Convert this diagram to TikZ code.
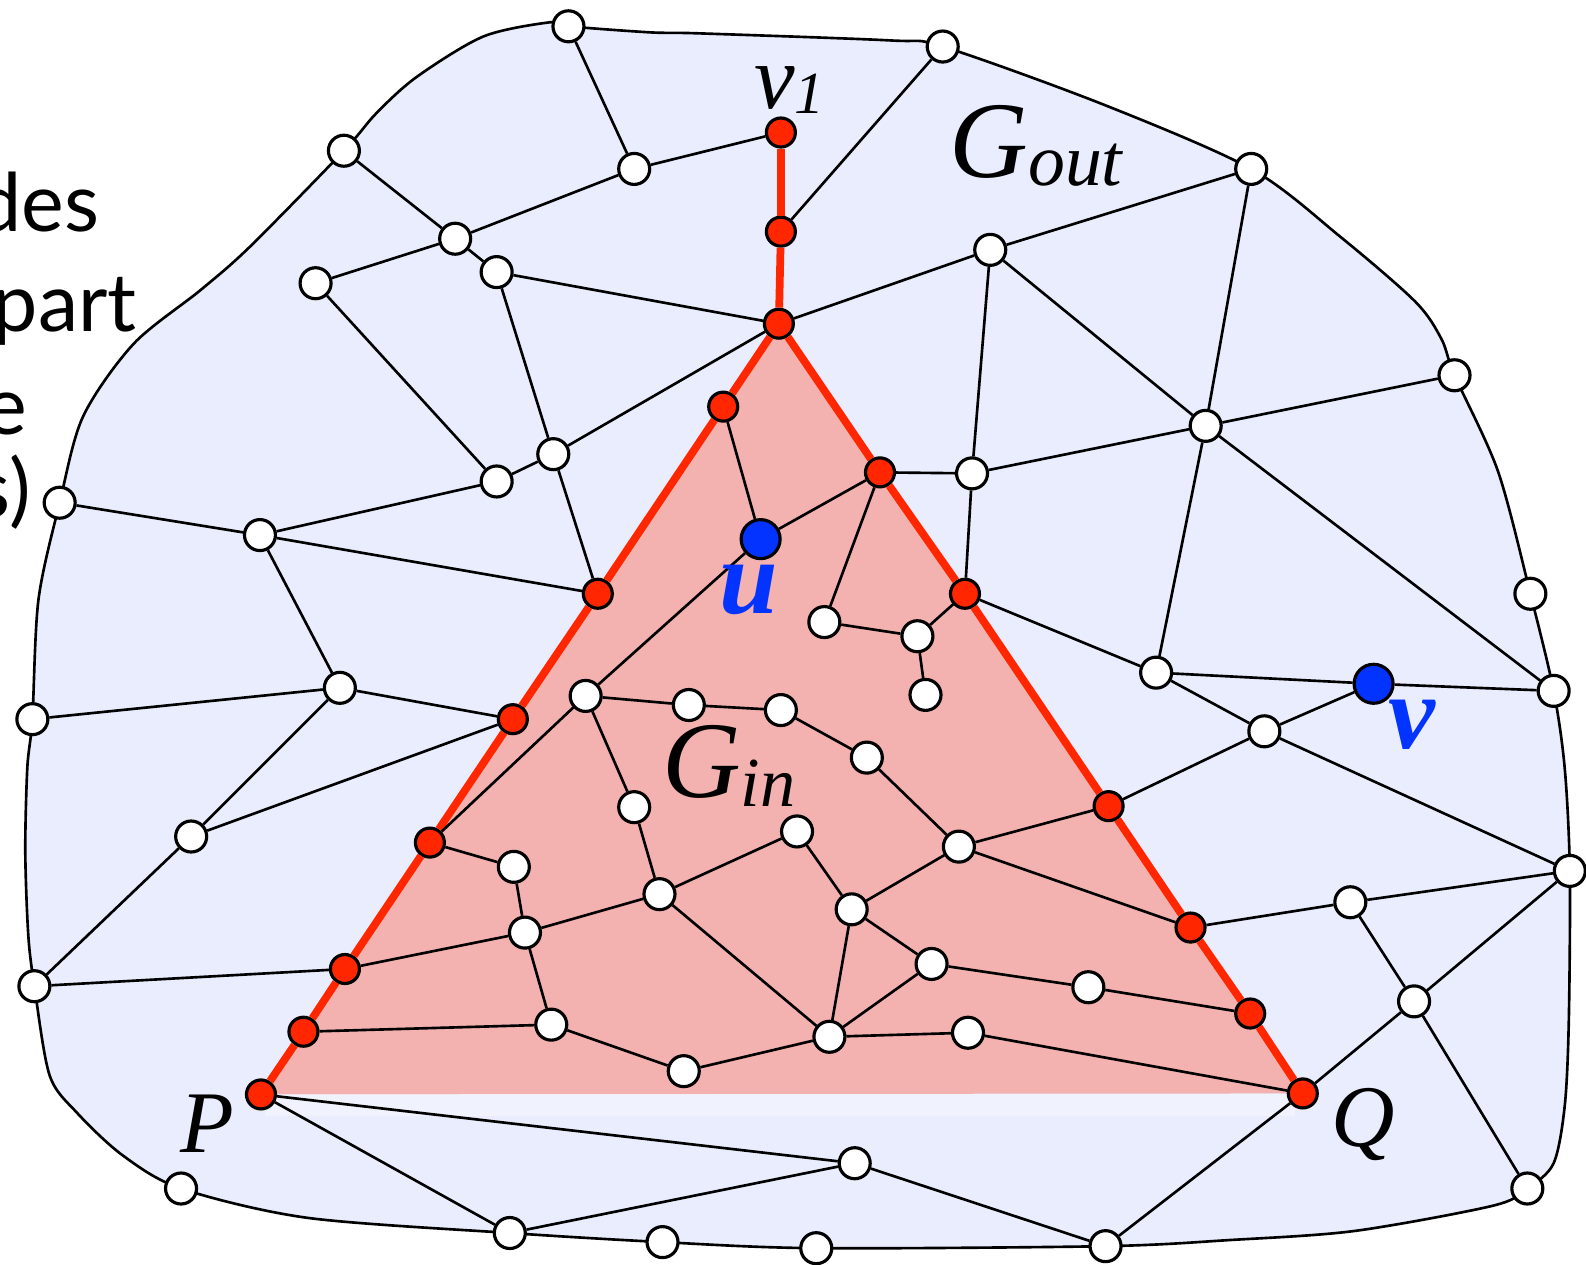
\documentclass[tikz,border=0pt]{standalone}
\usepackage{fontspec}
\setmainfont{Liberation Serif}
\newfontfamily\fragfont{Lato}
\definecolor{outfill}{RGB}{233,237,253}
\definecolor{infill}{RGB}{243,178,175}
\definecolor{pathred}{RGB}{255,38,0}
\definecolor{sepblue}{RGB}{3,51,255}

\begin{document}
\begin{tikzpicture}[x=0.010115cm,y=-0.010115cm]
    \tikzset{wnode/.style={draw, circle, fill=white, line width=0.9pt, inner sep=0pt, minimum size=0.31cm}}
    \tikzset{rnode/.style={wnode, fill=pathred, minimum size=0.29cm}}
    \tikzset{bnode/.style={wnode, fill=sepblue, minimum size=0.39cm}}
    \tikzset{edge/.style={line width=0.75pt}}
    \tikzset{redge/.style={pathred, line width=2.2pt}}
    \tikzset{lbl/.style={inner sep=0pt, anchor=base west}}
    \tikzset{frag/.style={inner sep=0pt, anchor=base east, font=\fragfont\fontsize{23}{27}\selectfont}}

    \useasboundingbox (0,0) rectangle (1568,1250);

    \node[frag] (f1) at (99,229) {des};
    \node[frag] (f2) at (136,328) {part};
    \node[frag] (f3) at (28,430) {e};
    \node[frag] (f4) at (31,512) {s)};

    \draw[fill=outfill, line width=0.75pt] plot[smooth cycle, tension=0.5] coordinates {
        (562,26) (643,32) (692,33) (881,40) (932,46) (1090,103) (1237,167) (1325,234)
        (1399,298) (1425,335) (1438,371) (1481,466) (1513,587) (1536,683) (1547,760)
        (1552,861) (1551,1009) (1547,1093) (1536,1150) (1510,1175) (1476,1192) (1339,1217)
        (1215,1226) (1093,1232) (807,1234) (655,1228) (504,1219) (304,1204) (179,1175)
        (121,1142) (76,1100) (49,1063) (34,975) (28,925) (25,842) (27,759) (32,711)
        (38,593) (59,497) (82,412) (132,340) (198,287) (247,244) (340,149) (372,112)
        (412,76) (478,36) (544,22)};
    \fill[infill] (770,320) -- (258,1082) -- (1288,1081) -- cycle;
    \fill[white, opacity=0.35] (262,1082) rectangle (1280,1103);

    \node[wnode] (b1) at (562,26) {};
    \node[wnode] (b2) at (932,46) {};
    \node[wnode] (b3) at (1237,167) {};
    \node[wnode] (b4) at (1438,371) {};
    \node[wnode] (b5) at (1513,587) {};
    \node[wnode] (b6) at (1536,683) {};
    \node[wnode] (b7) at (1552,861) {};
    \node[wnode] (b8) at (1510,1175) {};
    \node[wnode] (b9) at (1093,1232) {};
    \node[wnode] (b10) at (807,1234) {};
    \node[wnode] (b11) at (655,1228) {};
    \node[wnode] (b12) at (504,1219) {};
    \node[wnode] (b13) at (179,1175) {};
    \node[wnode] (b14) at (34,975) {};
    \node[wnode] (b15) at (32,711) {};
    \node[wnode] (b16) at (59,497) {};
    \node[wnode] (b17) at (340,149) {};

    \node[wnode] (n1) at (627,167) {};
    \node[wnode] (n2) at (450,236) {};
    \node[wnode] (n3) at (491,269) {};
    \node[wnode] (n4) at (312,280) {};
    \node[wnode] (n5) at (547,449) {};
    \node[wnode] (n6) at (491,476) {};
    \node[wnode] (n7) at (257,529) {};
    \node[wnode] (n8) at (336,680) {};
    \node[wnode] (n9) at (189,827) {};
    \node[wnode] (m1) at (979,247) {};
    \node[wnode] (m2) at (961,468) {};
    \node[wnode] (m3) at (1192,421) {};
    \node[wnode] (m4) at (1143,665) {};
    \node[wnode] (m5) at (1250,723) {};
    \node[wnode] (m6) at (1335,892) {};
    \node[wnode] (m7) at (1398,990) {};
    \node[wnode] (k1) at (845,1150) {};

    \node[rnode] (p1) at (772,131) {};
    \node[rnode] (p2) at (772,229) {};
    \node[rnode] (p3) at (770,320) {};
    \node[rnode] (a1) at (715,402) {};
    \node[rnode] (a2) at (591,587) {};
    \node[rnode] (a3) at (507,711) {};
    \node[rnode] (a4) at (425,833) {};
    \node[rnode] (a5) at (341,958) {};
    \node[rnode] (a6) at (300,1020) {};
    \node[rnode] (P) at (258,1082) {};
    \node[rnode] (c1) at (870,467) {};
    \node[rnode] (c2) at (954,587) {};
    \node[rnode] (c3) at (1096,797) {};
    \node[rnode] (c4) at (1177,917) {};
    \node[rnode] (c5) at (1236,1002) {};
    \node[rnode] (Q) at (1288,1081) {};

    \node[bnode] (u) at (752,533) {};
    \node[bnode] (v) at (1358,676) {};

    \node[wnode] (t1) at (815,615) {};
    \node[wnode] (t2) at (907,629) {};
    \node[wnode] (t3) at (915,687) {};
    \node[wnode] (t4) at (579,688) {};
    \node[wnode] (t5) at (681,697) {};
    \node[wnode] (t6) at (772,702) {};
    \node[wnode] (t7) at (857,749) {};
    \node[wnode] (t8) at (948,837) {};
    \node[wnode] (t9) at (627,798) {};
    \node[wnode] (t10) at (788,822) {};
    \node[wnode] (t11) at (652,884) {};
    \node[wnode] (t12) at (842,899) {};
    \node[wnode] (t13) at (508,857) {};
    \node[wnode] (t14) at (519,922) {};
    \node[wnode] (t15) at (545,1013) {};
    \node[wnode] (t16) at (676,1059) {};
    \node[wnode] (t17) at (820,1025) {};
    \node[wnode] (t18) at (921,953) {};
    \node[wnode] (t19) at (1076,976) {};
    \node[wnode] (t20) at (957,1021) {};

    \draw[redge] (p1) -- (p2);
    \draw[redge] (p2) -- (p3);
    \draw[redge] (p3) -- (a1);
    \draw[redge] (a1) -- (a2);
    \draw[redge] (a2) -- (a3);
    \draw[redge] (a3) -- (a4);
    \draw[redge] (a4) -- (a5);
    \draw[redge] (a5) -- (a6);
    \draw[redge] (a6) -- (P);
    \draw[redge] (p3) -- (c1);
    \draw[redge] (c1) -- (c2);
    \draw[redge] (c2) -- (c3);
    \draw[redge] (c3) -- (c4);
    \draw[redge] (c4) -- (c5);
    \draw[redge] (c5) -- (Q);

    \draw[edge] (b1) -- (n1);
    \draw[edge] (n1) -- (p1);
    \draw[edge] (n1) -- (n2);
    \draw[edge] (b17) -- (n2);
    \draw[edge] (n2) -- (n4);
    \draw[edge] (n2) -- (n3);
    \draw[edge] (n3) -- (p3);
    \draw[edge] (n3) -- (n5);
    \draw[edge] (n4) -- (n6);
    \draw[edge] (n6) -- (n5);
    \draw[edge] (n5) -- (p3);
    \draw[edge] (n5) -- (a2);
    \draw[edge] (n6) -- (n7);
    \draw[edge] (b16) -- (n7);
    \draw[edge] (n7) -- (a2);
    \draw[edge] (n7) -- (n8);
    \draw[edge] (n8) -- (b15);
    \draw[edge] (n8) -- (a3);
    \draw[edge] (n8) -- (n9);
    \draw[edge] (n9) -- (a3);
    \draw[edge] (n9) -- (b14);
    \draw[edge] (b14) -- (a5);
    \draw[edge] (p2) -- (b2);
    \draw[edge] (p3) -- (m1);
    \draw[edge] (m1) -- (b3);
    \draw[edge] (m1) -- (m2);
    \draw[edge] (m1) -- (m3);
    \draw[edge] (m2) -- (c1);
    \draw[edge] (m2) -- (m3);
    \draw[edge] (m2) -- (c2);
    \draw[edge] (m3) -- (b3);
    \draw[edge] (m3) -- (b4);
    \draw[edge] (m3) -- (m4);
    \draw[edge] (m3) -- (b6);
    \draw[edge] (c2) -- (m4);
    \draw[edge] (m4) -- (v);
    \draw[edge] (m4) -- (m5);
    \draw[edge] (v) -- (m5);
    \draw[edge] (v) -- (b6);
    \draw[edge] (m5) -- (c3);
    \draw[edge] (m5) -- (b7);
    \draw[edge] (c4) -- (m6);
    \draw[edge] (m6) -- (b7);
    \draw[edge] (m6) -- (m7);
    \draw[edge] (m7) -- (b7);
    \draw[edge] (m7) -- (b8);
    \draw[edge] (m7) -- (Q);
    \draw[edge] (Q) -- (b9);
    \draw[edge] (P) -- (k1);
    \draw[edge] (P) -- (b12);
    \draw[edge] (b12) -- (k1);
    \draw[edge] (k1) -- (b9);

    \draw[edge] (a1) -- (u);
    \draw[edge] (u) -- (c1);
    \draw[edge] (u) -- (t4);
    \draw[edge] (c1) -- (t1);
    \draw[edge] (t1) -- (t2);
    \draw[edge] (t2) -- (c2);
    \draw[edge] (t2) -- (t3);
    \draw[edge] (t4) -- (a4);
    \draw[edge] (t4) -- (t5);
    \draw[edge] (t5) -- (t6);
    \draw[edge] (t6) -- (t7);
    \draw[edge] (t7) -- (t8);
    \draw[edge] (t8) -- (c3);
    \draw[edge] (t8) -- (c4);
    \draw[edge] (t8) -- (t12);
    \draw[edge] (t4) -- (t9);
    \draw[edge] (t9) -- (t11);
    \draw[edge] (t11) -- (t10);
    \draw[edge] (t10) -- (t12);
    \draw[edge] (t11) -- (t14);
    \draw[edge] (t11) -- (t17);
    \draw[edge] (t12) -- (t17);
    \draw[edge] (t12) -- (t18);
    \draw[edge] (t18) -- (t17);
    \draw[edge] (t18) -- (t19);
    \draw[edge] (t19) -- (c5);
    \draw[edge] (t17) -- (t20);
    \draw[edge] (t20) -- (Q);
    \draw[edge] (t17) -- (t16);
    \draw[edge] (t16) -- (t15);
    \draw[edge] (t15) -- (a6);
    \draw[edge] (t15) -- (t14);
    \draw[edge] (t14) -- (a5);
    \draw[edge] (t14) -- (t13);
    \draw[edge] (t13) -- (a4);

    \node[lbl, font=\fontsize{26}{26}\selectfont\itshape] (v1lbl) at (745,107) {v\raisebox{-0.05cm}{\fontsize{17}{17}\selectfont 1}};
    \node[lbl, font=\fontsize{31}{31}\selectfont\itshape] (goutlbl) at (938,175) {G\raisebox{-0.08cm}{\fontsize{21}{21}\selectfont out}};
    \node[lbl, font=\fontsize{31}{31}\selectfont\itshape] (ginlbl) at (654,788) {G\raisebox{-0.09cm}{\fontsize{20}{20}\selectfont in}};
    \node[lbl, font=\fontsize{25}{25}\selectfont\itshape] (plbl) at (178,1139) {P};
    \node[lbl, font=\fontsize{25}{25}\selectfont\itshape] (qlbl) at (1316,1133) {Q};
    \node[lbl, font=\fontsize{30}{30}\selectfont\bfseries\itshape, text=sepblue] (ulbl) at (711,607) {u};
    \node[lbl, font=\fontsize{30}{30}\selectfont\bfseries\itshape, text=sepblue] (vlbl) at (1372,740) {v};
\end{tikzpicture}
\end{document}
